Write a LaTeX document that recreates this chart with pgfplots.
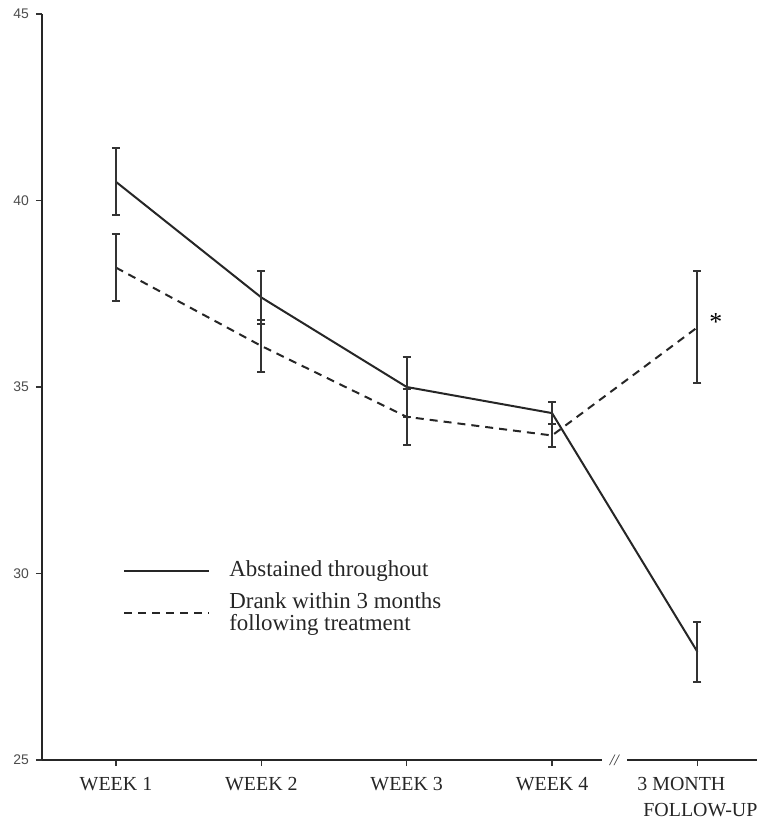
\documentclass[border=0pt]{standalone}
\usepackage{fontspec}
\setmainfont{Liberation Serif}
\newfontfamily\sansf{Liberation Sans}
\usepackage{pgfplots}
\pgfplotsset{compat=1.18}

\begin{document}
\begin{tikzpicture}
\begin{axis}[
  name=ax, at={(0,0)}, anchor=south west,
  scale only axis, width=357.5bp, height=373bp,
  xmin=0.491, xmax=5.41, ymin=25, ymax=45,
  axis lines*=left,
  axis line style={line width=1bp, black!85},
  tick align=outside, major tick length=3bp,
  tick style={line width=0.8bp, black!80},
  xtick={1,2,3,4,5},
  xticklabels={WEEK 1, WEEK 2, WEEK 3, WEEK 4, {3 MONTH\\\hspace*{3bp}FOLLOW-UP}},
  xticklabel style={font=\fontsize{10}{13}\selectfont, align=left, text=black!85, yshift=-2bp},
  ytick={25,30,35,40,45},
  yticklabel style={font=\sansf\fontsize{7}{8}\selectfont, text=black!70},
  /pgf/number format/assume math mode=true,
  clip=false,
  legend cell align=left,
  legend image code/.code={\draw[#1] (0bp,0bp) -- (42.5bp,0bp);},
  legend style={at={(axis cs:1.048,30.45)}, anchor=north west, draw=none, fill=none,
    inner sep=0pt, column sep=7.5bp, row sep=2.5bp,
    cells={align=left},
    font=\fontsize{11.5}{11}\selectfont, text=black!85},
  error bars/y dir=both, error bars/y explicit,
  error bars/error bar style={line width=1bp, black!80, solid},
  error bars/error mark options={rotate=90, mark size=2bp, line width=1bp, black!80, solid},
]
\addplot[line width=1bp, black!85, mark=none] coordinates {
  (1,40.5) +- (0,0.9)
  (2,37.4) +- (0,0.7)
  (3,35.0) +- (0,0.8)
  (4,34.3) +- (0,0.3)
  (5,27.9) +- (0,0.8)
};
\addlegendentry{Abstained throughout}
\addplot[line width=1bp, black!85, dash pattern=on 4bp off 3bp, mark=none] coordinates {
  (1,38.2) +- (0,0.9)
  (2,36.1) +- (0,0.7)
  (3,34.2) +- (0,0.75)
  (4,33.7) +- (0,0.3)
  (5,36.6) +- (0,1.5)
};
\addlegendentry{Drank within 3 months\\following treatment}
\node[fill=white, inner sep=0pt, minimum width=12.5bp, minimum height=5bp,
  font=\fontsize{8}{8}\selectfont\itshape, text=black!80] at (axis cs:4.428,25) {//};
\node[font=\fontsize{13}{13}\selectfont] at (axis cs:5.127,36.75) {*};
\end{axis}
\pgfresetboundingbox
\path[use as bounding box] (-21bp,-34.5bp) rectangle (357.5bp,380bp);
\end{tikzpicture}
\end{document}
